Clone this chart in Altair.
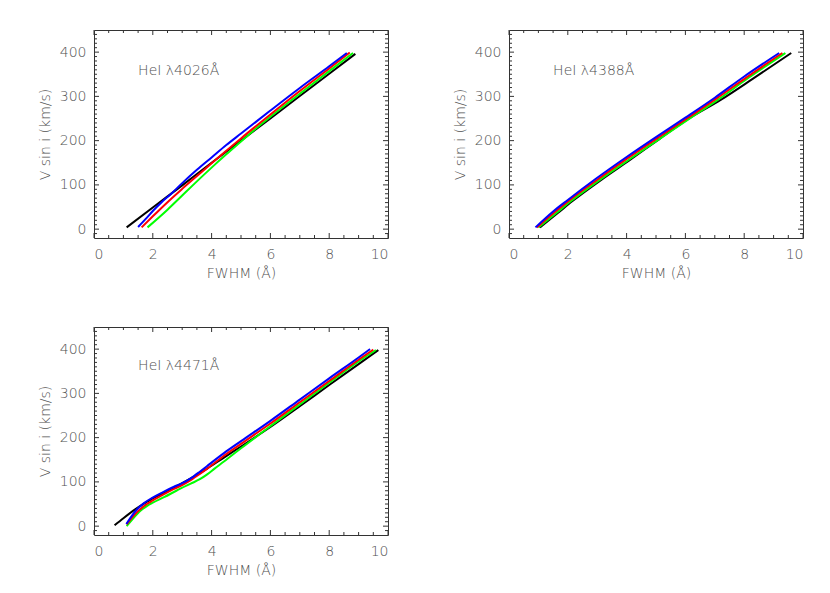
import altair as alt
import pandas as pd

# ---------------- data ----------------
# Panel 1: HeI 4026
p1_black_x = [1.11, 2.0, 3.0, 4.0, 5.0, 6.0, 7.0, 8.0, 8.89]
p1_black_v = [4, 49, 99, 150, 200, 250, 301, 351, 396]
p1_blue_x = [1.50, 1.8, 2.0, 2.3, 2.61, 3.0, 3.5, 4.0, 4.5, 5.0, 6.0, 7.0, 8.0, 8.60]
p1_blue_v = [5, 26, 41, 61, 79, 104, 134, 162, 190, 216, 268, 319, 368, 398]
p1_red_x = [1.62, 2.0, 2.5, 3.0, 3.64, 4.0, 5.0, 6.0, 7.0, 8.0, 8.70]
p1_red_v = [4, 29, 61, 91, 128, 149, 205, 259, 312, 363, 399]
p1_green_x = [1.82, 2.5, 3.0, 3.5, 4.0, 4.5, 5.0, 5.5, 6.0, 7.0, 8.0, 8.81]
p1_green_v = [4, 44, 76, 108, 139, 169, 198, 227, 254, 306, 357, 398]

# Panel 2: HeI 4388
p2_black_x = [1.05, 1.65, 2.15, 3.15, 4.15, 5.1, 6.1, 7.2, 8.3, 9.60]
p2_black_v = [4, 36, 63, 112, 158, 203, 249, 292, 340, 398]
p2_blue_x = [0.90, 1.5, 2.0, 3.0, 4.0, 5.0, 6.0, 7.0, 8.0, 9.19]
p2_blue_v = [4, 40, 66, 116, 163, 208, 252, 297, 345, 398]
p2_red_x = [0.95, 1.55, 2.05, 3.05, 4.05, 5.05, 6.05, 7.05, 8.08, 9.30]
p2_red_v = [4, 38, 65, 114, 161, 206, 250, 295, 343, 398]
p2_green_x = [1.00, 1.6, 2.1, 3.1, 4.1, 5.1, 6.1, 7.1, 8.15, 9.40]
p2_green_v = [4, 36, 63, 112, 158, 203, 248, 292, 342, 398]

# Panel 3: HeI 4471
p3_black_x = [0.70, 1.0, 1.4, 1.7, 2.0, 2.4, 2.8, 3.29, 3.85, 4.42, 5.0, 6.0, 7.0, 8.0, 9.0, 9.67]
p3_black_v = [2, 18, 38, 51, 63, 76, 90, 108, 130, 155, 180, 224, 271, 319, 366, 398]
p3_blue_x = [1.10, 1.25, 1.45, 1.7, 1.98, 2.35, 2.72, 3.0, 3.29, 3.6, 3.85, 4.42, 5.0, 6.0, 7.0, 8.0, 9.0, 9.39]
p3_blue_v = [5, 20, 37, 52, 64, 77, 89, 97, 108, 123, 136, 165, 192, 238, 286, 334, 381, 400]
p3_red_x = [1.11, 1.3, 1.55, 1.8, 2.0, 2.35, 2.72, 3.0, 3.29, 3.6, 3.85, 4.42, 5.0, 6.0, 7.0, 8.0, 9.0, 9.50]
p3_red_v = [4, 20, 37, 50, 58, 71, 84, 93, 104, 118, 130, 159, 186, 232, 280, 328, 376, 399]
p3_green_x = [1.11, 1.3, 1.55, 1.81, 2.0, 2.4, 2.8, 3.29, 3.6, 3.85, 4.1, 4.42, 5.0, 6.0, 7.0, 8.0, 9.0, 9.59]
p3_green_v = [0, 15, 33, 46, 53, 66, 80, 96, 106, 117, 130, 146, 176, 226, 275, 324, 372, 398]

labels = ["HeI λ4026Å", "HeI λ4388Å", "HeI λ4471Å"]
label_x = [1.5, 1.5, 1.5]
label_v = [358, 358, 361]

x_major = [0, 2, 4, 6, 8, 10]
x_minor = [0.5, 1, 1.5, 2.5, 3, 3.5, 4.5, 5, 5.5, 6.5, 7, 7.5, 8.5, 9, 9.5]
y_major = [0, 100, 200, 300, 400]
y_minor = [v for v in range(-10, 450, 10) if v % 100 != 0]

series_colors = {"black": "#000000", "green": "#00ff00", "red": "#ff0000", "blue": "#0000ff"}

# ---------------- styling ----------------
W, H = 294, 208
XDOM = [0, 10]
YDOM = [-20, 450]
FRAME = "#333333"
TXT = "#505050"
FONT = "DejaVu Sans"


def xenc(field):
    return alt.X(field, type="quantitative", scale=alt.Scale(domain=XDOM, nice=False, zero=False),
                 title="FWHM (Å)",
                 axis=alt.Axis(values=x_major, ticks=False, domain=False, grid=False,
                               labelPadding=9, titlePadding=5))


def yenc(field):
    return alt.Y(field, type="quantitative", scale=alt.Scale(domain=YDOM, nice=False, zero=False),
                 title="V sin i (km/s)",
                 axis=alt.Axis(values=y_major, ticks=False, domain=False, grid=False,
                               labelPadding=8, titlePadding=7))


def tick_layers():
    layers = []
    for vals, ln in ((x_major, 5), (x_minor, 3)):
        df = pd.DataFrame({"t": vals})
        b = alt.Chart(df).mark_rule(color=FRAME, strokeWidth=1)
        layers.append(b.encode(x=xenc("t"), y=alt.value(H), y2=alt.value(H - ln)))
        layers.append(b.encode(x=xenc("t"), y=alt.value(0), y2=alt.value(ln)))
    for vals, ln in ((y_major, 5), (y_minor, 3)):
        df = pd.DataFrame({"t": vals})
        b = alt.Chart(df).mark_rule(color=FRAME, strokeWidth=1)
        layers.append(b.encode(y=yenc("t"), x=alt.value(0), x2=alt.value(ln)))
        layers.append(b.encode(y=yenc("t"), x=alt.value(W), x2=alt.value(W - ln)))
    return layers


def panel(series, idx):
    layers = []
    for name in ["black", "green", "red", "blue"]:
        xs, vs = series[name]
        df = pd.DataFrame({"fwhm": xs, "vsini": vs})
        layers.append(
            alt.Chart(df).mark_line(color=series_colors[name], strokeWidth=2, interpolate="monotone")
            .encode(x=xenc("fwhm"), y=yenc("vsini"))
        )
    tdf = pd.DataFrame({"fwhm": [label_x[idx]], "vsini": [label_v[idx]], "txt": [labels[idx]]})
    layers.append(
        alt.Chart(tdf).mark_text(align="left", baseline="middle", font=FONT, fontSize=14,
                                 fontWeight=300, color=TXT)
        .encode(x=xenc("fwhm"), y=yenc("vsini"), text="txt:N")
    )
    layers += tick_layers()
    return alt.layer(*layers).properties(width=W, height=H)


p1 = panel({"black": (p1_black_x, p1_black_v), "green": (p1_green_x, p1_green_v),
            "red": (p1_red_x, p1_red_v), "blue": (p1_blue_x, p1_blue_v)}, 0)
p2 = panel({"black": (p2_black_x, p2_black_v), "green": (p2_green_x, p2_green_v),
            "red": (p2_red_x, p2_red_v), "blue": (p2_blue_x, p2_blue_v)}, 1)
p3 = panel({"black": (p3_black_x, p3_black_v), "green": (p3_green_x, p3_green_v),
            "red": (p3_red_x, p3_red_v), "blue": (p3_blue_x, p3_blue_v)}, 2)

chart = (
    alt.concat(p1, p2, p3, columns=2, spacing=alt.RowColnumber(row=89, column=121), bounds="flush")
    .properties(padding={"left": 29, "top": 21, "right": 5, "bottom": 5}, background="white")
    .configure_view(stroke=FRAME, strokeWidth=1)
    .configure_axis(labelFont=FONT, labelFontSize=14, labelColor=TXT, labelFontWeight=300,
                    titleFont=FONT, titleFontSize=14, titleColor=TXT, titleFontWeight=300)
)

chart.save("out.html", embed_options={"renderer": "svg", "actions": False})
